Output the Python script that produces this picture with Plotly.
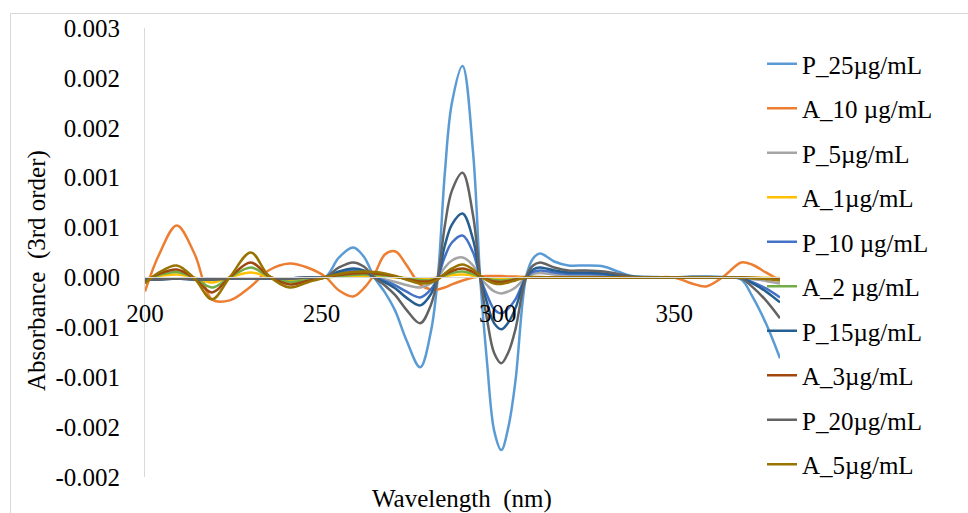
import plotly.graph_objects as go

# Wavelength grid (nm)
wavelength = [200, 204, 209, 214, 219, 224, 230, 235, 241, 246,
              251, 255, 259, 262, 265, 268, 271, 274, 278, 281,
              283, 285, 287, 290, 293, 295, 297, 299, 301, 303,
              305, 308, 310, 312, 316, 320, 325, 330, 334, 338,
              344, 350, 355, 359, 364, 369, 372, 376, 380]

# Values, in units of 1e-4 absorbance
P_25 = [-0.2, -0.2, -0.1, -0.2, -0.2, -0.1, -0.1, -0.1, -0.1, 0.0,
        0.0, 2.0, 3.0, 2.1, 0.0, -1.5, -3.4, -6.2, -9.0, -5.5,
        0.0, 10.5, 17.5, 21.2, 12.5, 0.0, -8.7, -15.4, -17.3, -15.0,
        -10.4, 0.0, 1.9, 2.4, 1.6, 1.2, 1.2, 1.1, 0.6, 0.15,
        0.05, 0.0, 0.1, 0.1, 0.05, -0.2, -1.8, -4.6, -8.1]
A_10 = [-1.4, 2.3, 5.2, 2.4, -2.2, -2.3, -0.9, 0.7, 1.4, 1.0,
        0.1, -1.3, -1.9, -1.1, 0.3, 2.3, 2.6, 1.3, -0.7, -1.2,
        -1.2, -1.0, -0.7, -0.3, 0.0, 0.1, 0.15, 0.15, 0.15, 0.1,
        0.1, 0.05, 0.0, 0.0, 0.0, 0.0, 0.0, 0.0, 0.0, 0.0,
        0.0, 0.0, -0.6, -0.9, 0.1, 1.5, 1.3, 0.5, -0.3]
P_5 = [-0.15, -0.15, -0.1, -0.15, -0.15, -0.1, -0.1, -0.1, -0.1, 0.0,
       0.0, 0.25, 0.4, 0.3, 0.0, -0.2, -0.45, -0.75, -1.0, -0.6,
       0.0, 1.0, 1.7, 2.0, 1.2, 0.0, -0.8, -1.4, -1.6, -1.4,
       -1.0, 0.0, 0.35, 0.45, 0.3, 0.25, 0.25, 0.2, 0.1, 0.0,
       0.0, 0.0, 0.0, 0.0, 0.0, 0.0, -0.15, -0.35, -0.6]
A_1 = [-0.15, 0.15, 0.3, 0.0, -0.5, 0.0, 0.5, 0.05, -0.25, -0.1,
       0.0, 0.1, 0.15, 0.15, 0.15, 0.1, 0.0, -0.05, -0.15, -0.1,
       0.0, 0.1, 0.25, 0.3, 0.2, 0.0, -0.1, -0.15, -0.15, -0.1,
       -0.05, 0.0, 0.0, 0.0, 0.0, 0.0, 0.0, 0.0, 0.0, 0.0,
       0.0, 0.0, 0.0, 0.0, 0.0, 0.0, 0.0, -0.03, -0.05]
P_10 = [-0.15, -0.15, -0.1, -0.15, -0.15, -0.1, -0.1, -0.1, -0.1, 0.0,
        0.0, 0.45, 0.7, 0.5, 0.0, -0.35, -0.8, -1.4, -2.0, -1.2,
        0.0, 2.1, 3.5, 4.2, 2.5, 0.0, -1.8, -3.2, -3.6, -3.1,
        -2.2, 0.0, 0.55, 0.7, 0.5, 0.35, 0.35, 0.3, 0.15, 0.05,
        0.0, 0.0, 0.0, 0.0, 0.0, -0.05, -0.45, -1.1, -2.0]
A_2 = [-0.3, 0.25, 0.55, -0.05, -1.0, 0.0, 1.0, 0.1, -0.45, -0.25,
       0.0, 0.15, 0.25, 0.3, 0.25, 0.2, 0.05, -0.1, -0.25, -0.25,
       -0.05, 0.2, 0.45, 0.6, 0.35, 0.05, -0.15, -0.25, -0.3, -0.25,
       -0.15, 0.0, 0.0, 0.0, 0.0, 0.0, 0.0, 0.0, 0.0, 0.0,
       0.0, 0.0, 0.0, 0.0, 0.0, 0.0, -0.05, -0.1, -0.15]
P_15 = [-0.2, -0.2, -0.1, -0.2, -0.2, -0.1, -0.1, -0.1, -0.1, 0.0,
        0.0, 0.6, 0.9, 0.7, 0.0, -0.5, -1.1, -2.0, -2.8, -1.7,
        0.0, 3.2, 5.3, 6.4, 3.8, 0.0, -2.6, -4.6, -5.2, -4.5,
        -3.1, 0.0, 0.8, 1.0, 0.7, 0.5, 0.5, 0.4, 0.2, 0.05,
        0.0, 0.0, 0.0, 0.0, 0.0, -0.05, -0.55, -1.4, -2.5]
A_3 = [-0.4, 0.35, 0.8, -0.1, -1.5, 0.0, 1.5, 0.15, -0.7, -0.35,
       0.0, 0.25, 0.4, 0.45, 0.4, 0.3, 0.1, -0.15, -0.4, -0.35,
       -0.1, 0.3, 0.65, 0.9, 0.55, 0.1, -0.2, -0.4, -0.45, -0.35,
       -0.2, 0.0, 0.0, 0.0, 0.0, 0.0, 0.0, 0.0, 0.0, 0.0,
       0.0, 0.0, 0.0, 0.0, 0.0, 0.0, -0.05, -0.1, -0.2]
P_20 = [-0.2, -0.2, -0.1, -0.2, -0.2, -0.1, -0.1, -0.1, -0.1, 0.0,
        0.0, 1.0, 1.5, 1.1, 0.0, -0.8, -1.8, -3.2, -4.6, -2.8,
        0.0, 5.2, 8.7, 10.5, 6.2, 0.0, -4.3, -7.6, -8.6, -7.5,
        -5.2, 0.0, 1.2, 1.5, 1.0, 0.7, 0.7, 0.6, 0.35, 0.1,
        0.0, 0.0, 0.05, 0.05, 0.0, -0.1, -0.9, -2.3, -4.1]
A_5 = [-0.6, 0.5, 1.2, -0.1, -2.2, 0.0, 2.5, 0.2, -1.0, -0.5,
       0.0, 0.35, 0.55, 0.6, 0.55, 0.4, 0.15, -0.2, -0.6, -0.5,
       -0.2, 0.4, 0.9, 1.3, 0.8, 0.2, -0.3, -0.6, -0.65, -0.5,
       -0.3, 0.0, 0.05, 0.05, 0.0, 0.0, 0.0, 0.0, 0.0, 0.0,
       0.0, 0.0, 0.0, 0.0, 0.0, 0.0, -0.05, -0.15, -0.3]

series_names = ["P_25µg/mL", "A_10 µg/mL", "P_5µg/mL", "A_1µg/mL", "P_10 µg/mL",
                "A_2 µg/mL", "P_15µg/mL", "A_3µg/mL", "P_20µg/mL", "A_5µg/mL"]
series_values = [P_25, A_10, P_5, A_1, P_10, A_2, P_15, A_3, P_20, A_5]
series_colors = ["#5B9BD5", "#ED7D31", "#A5A5A5", "#FFC000", "#4472C4",
                 "#70AD47", "#255E91", "#9E480E", "#636363", "#997300"]

UNIT = 1e-4

y_tick_vals = [-0.002, -0.0015, -0.001, -0.0005, 0.0, 0.0005, 0.001, 0.0015, 0.002, 0.0025]
y_tick_text = ["-0.002", "-0.002", "-0.001", "-0.001", "0.000",
               "0.001", "0.001", "0.002", "0.002", "0.003"]
x_tick_vals = [200, 250, 300, 350]

FONT = "'Liberation Serif', 'Times New Roman', Tinos, 'DejaVu Serif', 'Noto Serif', serif"

fig = go.Figure()
for i, (name, vals, col) in enumerate(zip(series_names, series_values, series_colors)):
    fig.add_trace(go.Scatter(
        x=wavelength, y=[v * UNIT for v in vals], name=name, mode="lines",
        line=dict(color=col, width=2.5, shape="spline", smoothing=1.0),
        legendgroup=f"g{i}",
    ))

W, H = 968, 513
L, R, T, B = 145, 188, 28, 36
pw, ph = W - L - R, H - T - B


def px_x(px):
    return (px - L) / pw


def px_y(py):
    return (H - B - py) / ph


fig.update_layout(
    width=W, height=H,
    margin=dict(l=L, r=R, t=T, b=B),
    paper_bgcolor="white", plot_bgcolor="white",
    font=dict(family=FONT, size=25, color="#000000"),
    showlegend=True,
    legend=dict(x=px_x(762), y=px_y(41), xanchor="left", yanchor="top",
                bgcolor="rgba(0,0,0,0)", tracegroupgap=9,
                font=dict(family=FONT, size=25, color="#000000")),
    xaxis=dict(range=[200, 380], tickmode="array", tickvals=x_tick_vals,
               showgrid=False, zeroline=False, showline=True,
               linecolor="#d9d9d9", linewidth=1, ticks="",
               anchor="free", position=px_y(277),
               ticklabelstandoff=14,
               tickfont=dict(family=FONT, size=25, color="#000000")),
    yaxis=dict(range=[-0.002, 0.0025], tickmode="array", tickvals=y_tick_vals,
               ticktext=y_tick_text, showgrid=False, zeroline=False,
               showline=True, linecolor="#d9d9d9", linewidth=1, ticks="",
               ticklabelstandoff=19,
               tickfont=dict(family=FONT, size=25, color="#000000")),
    annotations=[
        dict(text="Absorbance\u00a0 (3rd order)", xref="paper", yref="paper",
             x=px_x(37), y=px_y(271), textangle=-90, showarrow=False,
             xanchor="center", yanchor="middle",
             font=dict(family=FONT, size=25, color="#000000")),
        dict(text="Wavelength\u00a0 (nm)", xref="paper", yref="paper",
             x=px_x(462), y=px_y(499), showarrow=False,
             xanchor="center", yanchor="middle",
             font=dict(family=FONT, size=25, color="#000000")),
    ],
    shapes=[
        dict(type="rect", xref="paper", yref="paper",
             x0=px_x(10.5), x1=px_x(990), y0=px_y(530), y1=px_y(13.5),
             line=dict(color="#d9d9d9", width=1), fillcolor="rgba(0,0,0,0)",
             layer="below"),
    ],
)

fig.write_html("out.html")
